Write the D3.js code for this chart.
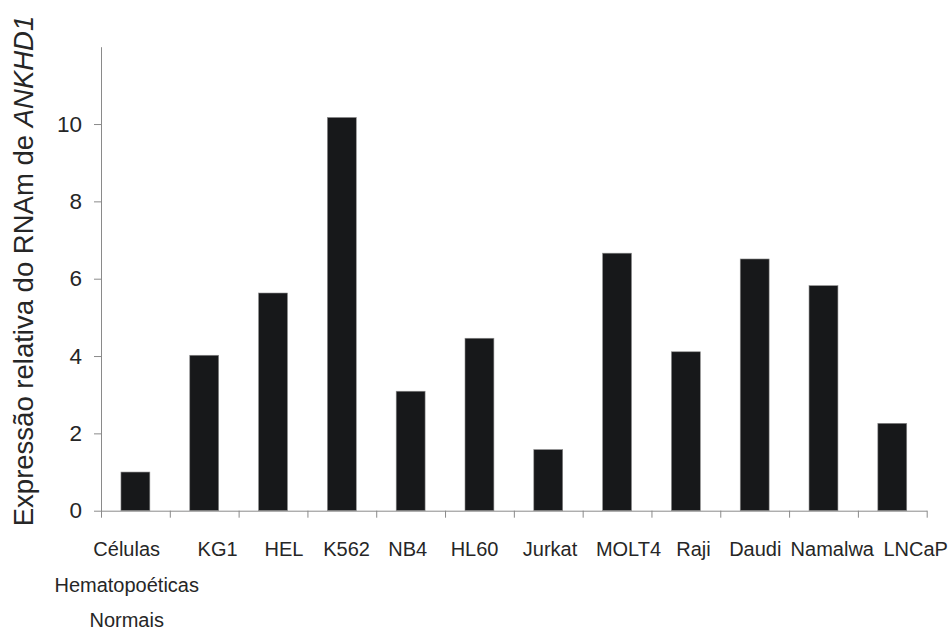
<!DOCTYPE html>
<html>
<head>
<meta charset="utf-8">
<script src="https://cdn.jsdelivr.net/npm/d3@7"></script>
<style>
  html, body { margin: 0; padding: 0; background: #ffffff; }
  svg { display: block; font-family: "Liberation Sans", Arial, sans-serif; }
</style>
</head>
<body>
<svg id="chart" width="949" height="631"></svg>
<script>
// Cell lines (first category spans three lines)
const categories = ["Células|Hematopoéticas|Normais", "KG1", "HEL", "K562", "NB4", "HL60",
                    "Jurkat", "MOLT4", "Raji", "Daudi", "Namalwa", "LNCaP"];
// Relative ANKHD1 mRNA expression
const expression = [1.0, 4.02, 5.63, 10.17, 3.09, 4.46, 1.58, 6.66, 4.11, 6.51, 5.82, 2.26];
// Labelled y ticks
const yTicks = [0, 2, 4, 6, 8, 10];

// Horizontal nudges for the category labels so long names do not collide
const labelShift = [-8.7, 13.4, 10.9, 4.7, -2.9, -4.9, 1.8, 11.4, 7.6, 0.6, 8.8, 23.4];

const svg = d3.select("#chart");
const margin = { left: 101, right: 22.3, top: 46.7, bottom: 120.3 };
const W = 949, H = 631;
const innerW = W - margin.left - margin.right;
const innerH = H - margin.top - margin.bottom;

const g = svg.append("g").attr("transform", `translate(${margin.left},${margin.top})`);

const x = d3.scaleBand()
  .domain(categories)
  .range([0, innerW])
  .paddingInner(0.58)
  .paddingOuter(0.29);

const y = d3.scaleLinear().domain([0, 12]).range([innerH, 0]);

// Category boundary ticks along the baseline
const xEdges = d3.scaleLinear().domain([0, categories.length]).range([0, innerW]);

const axisColor = "#8a8a8a";
const textColor = "#262626";
const fontFamily = "'Liberation Sans', Arial, sans-serif";

// Bars
g.selectAll("rect.bar")
  .data(categories)
  .join("rect")
  .attr("class", "bar")
  .attr("x", d => x(d))
  .attr("width", x.bandwidth())
  .attr("y", (d, i) => y(expression[i]))
  .attr("height", (d, i) => y(0) - y(expression[i]))
  .attr("fill", "#17181a")
  .attr("stroke", "#8c8c8c")
  .attr("stroke-width", 0.6);

// Y axis
const yAxis = g.append("g")
  .call(d3.axisLeft(y).tickValues(yTicks).tickSize(7).tickSizeOuter(0).tickPadding(12));
yAxis.select(".domain").attr("stroke", axisColor);
yAxis.selectAll(".tick line").attr("stroke", axisColor);
yAxis.selectAll(".tick text")
  .attr("fill", textColor)
  .style("font-size", "22.5px")
  .style("font-family", fontFamily);

// X axis line with boundary ticks
const xAxis = g.append("g")
  .attr("transform", `translate(0,${innerH})`)
  .call(d3.axisBottom(xEdges).tickValues(d3.range(categories.length + 1))
    .tickFormat("").tickSize(7).tickSizeOuter(0));
xAxis.select(".domain").attr("stroke", axisColor);
xAxis.selectAll(".tick line").attr("stroke", axisColor);

// X category labels
const xLabels = g.append("g")
  .attr("transform", `translate(0,${innerH})`)
  .call(d3.axisBottom(x).tickSize(0).tickPadding(0).tickFormat(""));
xLabels.select(".domain").remove();
xLabels.selectAll(".tick").each(function(d, i) {
  const lines = d.split("|");
  const t = d3.select(this).append("text")
    .attr("fill", textColor)
    .attr("text-anchor", "middle")
    .style("font-size", "20px")
    .style("font-family", fontFamily);
  lines.forEach((ln, k) => {
    t.append("tspan").attr("x", labelShift[i]).attr("y", 45.5 + k * 35.5).text(ln);
  });
});

// Y axis title
const title = svg.append("text")
  .attr("transform", "translate(33,271) rotate(-90)")
  .attr("text-anchor", "middle")
  .attr("fill", textColor)
  .style("font-size", "27.5px")
  .style("font-family", fontFamily);
title.append("tspan").text("Expressão relativa do RNAm de ");
title.append("tspan").style("font-style", "italic").text("ANKHD1");
</script>
</body>
</html>
